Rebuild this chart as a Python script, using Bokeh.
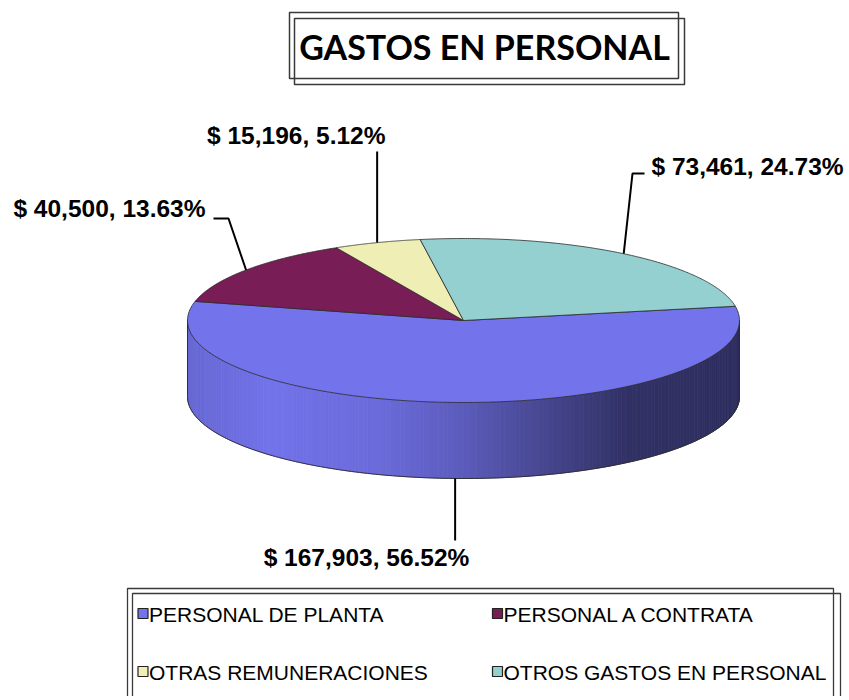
import numpy as np
from bokeh.plotting import figure
from bokeh.models import Range1d, ColumnDataSource
from bokeh.embed import file_html
from bokeh.resources import INLINE
from bokeh.core.properties import value

# ---------------- data ----------------
categories = ["PERSONAL DE PLANTA", "PERSONAL A CONTRATA",
              "OTRAS REMUNERACIONES", "OTROS GASTOS EN PERSONAL"]
amounts = [167903, 40500, 15196, 73461]
top_colors = ["#7373EB", "#791D57", "#EFEEB4", "#93D0CF"]
title_text = "GASTOS EN PERSONAL"

# ---------------- layout / style ----------------
W, H = 849, 696
CX, CY, RX, RY, DEPTH = 463, 320, 276, 82, 76
START = 10.0           # first slice start angle (deg, math convention), clockwise
EDGE = "#2a2a2a"
LABEL_FONT = value("Liberation Sans")
# leader path (after the anchor), label position (cap centre) and alignment
label_paths = [[(None, 540)], [(228, 218), (213, 218)], [(None, 151)], [(632, 173), (644, 173)]]
label_pos = [(366, 557, "center"), (205, 208, "right"), (385, 135, "right"), (651, 166, "left")]
# side shading profile across the width
shade_u = [0.0, 0.15, 0.35, 0.5, 0.66, 0.8, 1.0]
shade_f = [0.90, 1.0, 0.93, 0.80, 0.60, 0.43, 0.41]

p = figure(width=W, height=H, output_backend="svg", toolbar_location=None,
           x_range=Range1d(0, W), y_range=Range1d(H, 0),
           x_axis_location=None, y_axis_location=None, min_border=0,
           background_fill_color="white", border_fill_color="white")
p.grid.visible = False
p.outline_line_color = None


def ell(t_deg, dy=0.0):
    t = np.radians(t_deg)
    return CX + RX * np.cos(t), CY - RY * np.sin(t) + dy


def hex2rgb(h):
    h = h.lstrip("#")
    return np.array([int(h[i:i + 2], 16) for i in (0, 2, 4)], dtype=float)


def rgb2hex(c):
    c = np.clip(c, 0, 255).astype(int)
    return "#%02x%02x%02x" % tuple(c)


total = float(sum(amounts))
fracs = [a / total for a in amounts]
starts, ends = [], []
cur = START
for f in fracs:
    starts.append(cur)
    ends.append(cur - 360 * f)
    cur -= 360 * f

# ---------------- side walls ----------------
sx, sy, sc = [], [], []
for i in range(len(amounts)):
    base = hex2rgb(top_colors[i])
    a_hi, a_lo = starts[i], ends[i]
    n = max(2, int(abs(a_hi - a_lo)))
    ts = np.linspace(a_lo, a_hi, n + 1)
    for t0, t1 in zip(ts[:-1], ts[1:]):
        tm = 0.5 * (t0 + t1)
        if np.sin(np.radians(tm)) < 0:
            x0, y0 = ell(t0)
            x1, y1 = ell(t1)
            sx.append([x0, x1, x1, x0])
            sy.append([y0, y1, y1 + DEPTH, y0 + DEPTH])
            u = (ell(tm)[0] - (CX - RX)) / (2 * RX)
            sc.append(rgb2hex(base * np.interp(u, shade_u, shade_f)))
p.patches(xs="xs", ys="ys", fill_color="c", line_color="c", line_width=0.8,
          source=ColumnDataSource(dict(xs=sx, ys=sy, c=sc)))

tb = np.linspace(180, 360, 200)
bx, by = ell(tb, DEPTH)
p.line(bx, by, line_color=EDGE, line_width=0.9)
p.segment(x0=[CX - RX, CX + RX], y0=[CY, CY], x1=[CX - RX, CX + RX], y1=[CY + DEPTH, CY + DEPTH],
          line_color=EDGE, line_width=0.9)

# ---------------- top faces ----------------
txs, tys = [], []
for i in range(len(amounts)):
    ts = np.linspace(starts[i], ends[i], 200)
    x, y = ell(ts)
    txs.append([CX] + list(x))
    tys.append([CY] + list(y))
p.patches(xs=txs, ys=tys, fill_color=top_colors, line_color=EDGE, line_width=0.8)

# ---------------- labels ----------------
for i in range(len(amounts)):
    mid = 0.5 * (starts[i] + ends[i])
    ax, ay = ell(mid)
    if np.sin(np.radians(mid)) < 0:
        ay += DEPTH
    px, py = [ax], [ay]
    for (lx, ly) in label_paths[i]:
        px.append(ax if lx is None else lx)
        py.append(ly)
    p.line(px, py, line_color="black", line_width=2)
    pct = 100 * amounts[i] / total
    txt = f"$ {amounts[i]:,}, {pct:.2f}%"
    lx, ly, al = label_pos[i]
    p.text(x=[lx], y=[ly], text=[txt], text_font=LABEL_FONT, text_font_style="bold",
           text_font_size="24.5px", text_align=al, text_baseline="middle", text_color="black")

# ---------------- title ----------------
p.quad(left=[289, 294], right=[678, 684], top=[12, 18], bottom=[78, 84],
       fill_color=None, line_color="#3a3a3a", line_width=1.5)
p.text(x=[484], y=[46], text=[title_text], text_font=value("Lato"), text_font_style="bold",
       text_font_size="34px", text_align="center", text_baseline="middle", text_color="black")

# ---------------- legend ----------------
p.quad(left=[127, 132], right=[833, 840], top=[588, 593], bottom=[720, 720],
       fill_color=None, line_color="#3a3a3a", line_width=1.3)
leg_x = [142.5, 497, 142.5, 497]
leg_y = [613, 613, 671, 671]
p.scatter(x=leg_x, y=leg_y, marker="square", size=10, fill_color=top_colors,
          line_color="#222222", line_width=1.2)
p.text(x=[x + 6 for x in leg_x], y=[y + 1 for y in leg_y], text=categories,
       text_font=LABEL_FONT, text_font_size="21px", text_align="left",
       text_baseline="middle", text_color="black")

open("out.html", "w").write(file_html(p, INLINE))
